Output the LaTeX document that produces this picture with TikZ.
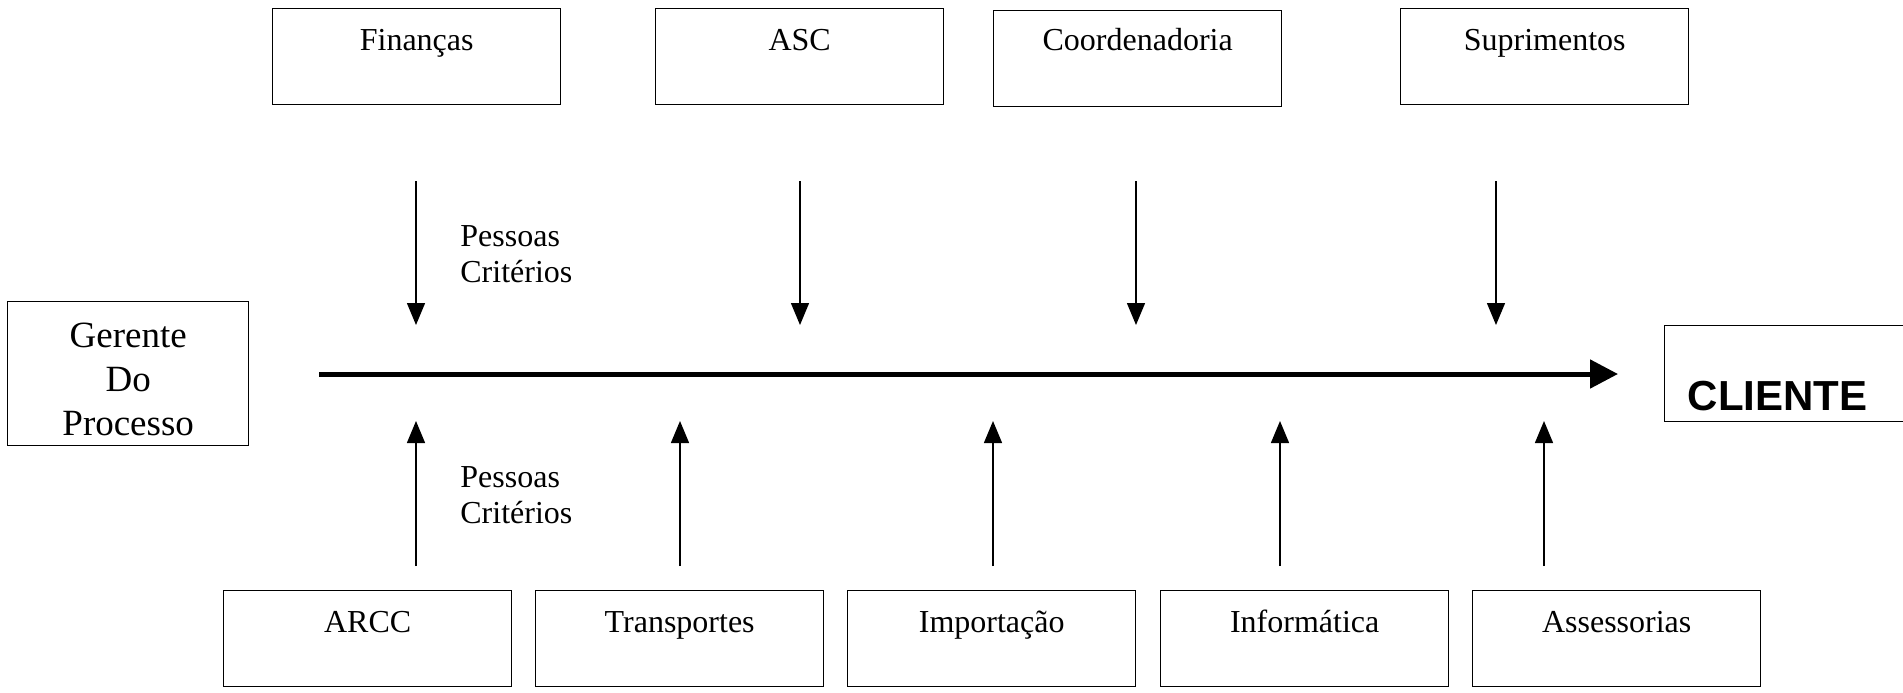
\documentclass[tikz,border=0pt]{standalone}
\usepackage{fontspec}
\setmainfont{Liberation Serif}
\newfontfamily\arialfont{Liberation Sans}
\usetikzlibrary{arrows.meta}

\begin{document}
\begin{tikzpicture}[x=0.5pt,y=-0.5pt,
  box/.style={draw,line width=0.7pt,inner sep=0pt,minimum width=144pt,text height=21pt,text depth=27pt,font=\fontsize{16}{18}\selectfont},
  feed/.style={line width=0.7pt,-{Triangle[length=11pt,width=9pt]}},
  lbl/.style={align=left,inner sep=0pt,font=\fontsize{16}{18}\selectfont}]
\useasboundingbox (0,0) rectangle (1903,692);
% areas above the process
\node[box,anchor=north west] (fin) at (272,8) {Finanças};
\node[box,anchor=north west] (asc) at (655,8) {ASC};
\node[box,anchor=north west,text height=20pt,text depth=28pt] (coord) at (993,10) {Coordenadoria};
\node[box,anchor=north west] (supr) at (1400,8) {Suprimentos};
% areas below the process
\node[box,anchor=north west] (arcc) at (223,590) {ARCC};
\node[box,anchor=north west] (transp) at (535,590) {Transportes};
\node[box,anchor=north west] (import) at (847,590) {Importação};
\node[box,anchor=north west] (inform) at (1160,590) {Informática};
\node[box,anchor=north west] (assess) at (1472,590) {Assessorias};
% ends of the process
\node[draw,line width=0.7pt,anchor=north west,minimum width=120.5pt,minimum height=72pt,align=center,font=\fontsize{18.5}{22}\selectfont] (ger) at (7,301) {\rule{0pt}{18pt}Gerente\\Do\\Processo};
\node[draw,line width=0.7pt,anchor=north west,inner xsep=11.5pt,inner ysep=0pt,text width=110pt,text height=42.5pt,text depth=5.5pt,font=\arialfont\bfseries\fontsize{21}{24}\selectfont] (cli) at (1664,325) {CLIENTE};
% main flow
\coordinate (spine-a) at (319,374);
\coordinate (spine-b) at (1618,374);
\draw[line width=2.5pt,-{Triangle[length=14pt,width=14pt]}] (spine-a) -- (spine-b);
% inputs from above and below
\foreach \n/\x in {fin/416,asc/800,coord/1136,supr/1496}{
  \coordinate (\n-from) at (\x,181);
  \coordinate (\n-to) at (\x,325);
  \draw[feed] (\n-from) -- (\n-to);
}
\foreach \n/\x in {arcc/416,transp/680,import/993,inform/1280,assess/1544}{
  \coordinate (\n-from) at (\x,566);
  \coordinate (\n-to) at (\x,421);
  \draw[feed] (\n-from) -- (\n-to);
}
\node[lbl,anchor=north west] (crit-up) at (460,225) {Pessoas\\Critérios};
\node[lbl,anchor=north west] (crit-dn) at (460,466) {Pessoas\\Critérios};
\end{tikzpicture}
\end{document}
